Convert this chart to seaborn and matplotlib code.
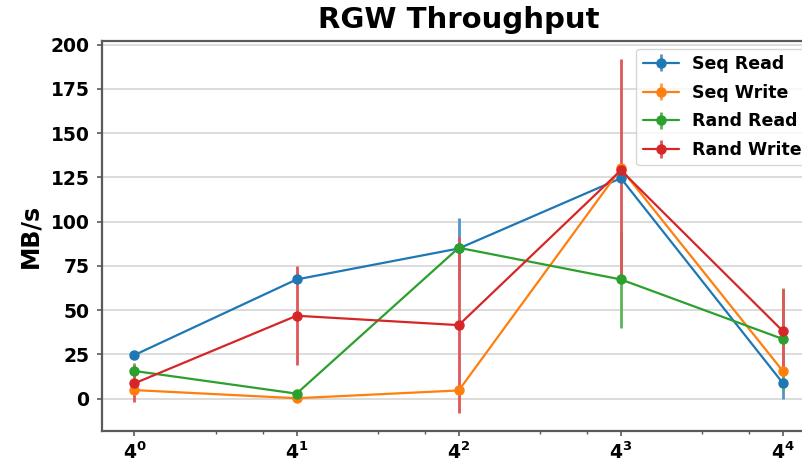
import numpy as np
import pandas as pd
import matplotlib
matplotlib.use("Agg")
import matplotlib.pyplot as plt
import matplotlib.ticker as mticker
import seaborn as sns

block_sizes = [1, 4, 16, 64, 256]
series_names = ["Seq Read", "Seq Write", "Rand Read", "Rand Write"]
seq_read = [24.6, 67.3, 84.8, 124.5, 8.6]
seq_read_err = [0.0, 0.0, 17.5, 0.0, 9.0]
seq_write = [4.8, 0.2, 4.6, 130.0, 15.4]
seq_write_err = [0.0, 0.0, 0.0, 0.0, 0.0]
rand_read = [15.6, 2.8, 85.2, 67.3, 33.6]
rand_read_err = [4.5, 0.0, 0.0, 27.3, 29.0]
rand_write = [8.6, 46.8, 41.5, 129.0, 38.0]
rand_write_err = [10.4, 28.0, 49.8, 63.0, 24.0]
xtick_labels = [r"$\mathbf{4^{0}}$", r"$\mathbf{4^{1}}$", r"$\mathbf{4^{2}}$",
                r"$\mathbf{4^{3}}$", r"$\mathbf{4^{4}}$"]

sns.set_style("whitegrid", {"axes.edgecolor": "#5a5a5a", "grid.color": "#d9d9d9",
                            "xtick.bottom": True, "ytick.left": True,
                            "text.color": "black", "axes.labelcolor": "black",
                            "xtick.color": "#5a5a5a", "ytick.color": "#5a5a5a"})
plt.rcParams["font.family"] = ["DejaVu Sans"]
plt.rcParams["font.weight"] = "bold"
plt.rcParams["mathtext.fontset"] = "dejavusans"

palette = sns.color_palette("tab10", 4)

fig = plt.figure(figsize=(8.02, 4.63), dpi=100)
ax = fig.add_axes([102 / 802, 1 - 431 / 463, (815.5 - 102) / 802, (431 - 41) / 463])

values = [seq_read, seq_write, rand_read, rand_write]
errors = [seq_read_err, seq_write_err, rand_read_err, rand_write_err]
for name, v, e, c in zip(series_names, values, errors, palette):
    light = tuple(0.78 * np.array(c) + 0.22)
    ax.errorbar(block_sizes, v, yerr=e, fmt="-o", color=c, label=name,
                lw=1.6, ms=6.5, elinewidth=2.0, capsize=0, ecolor=light)

ax.set_xscale("log", base=4)
ax.xaxis.set_major_locator(mticker.FixedLocator(block_sizes))
ax.xaxis.set_major_formatter(mticker.FixedFormatter(xtick_labels))
ax.xaxis.set_minor_locator(mticker.LogLocator(base=4, subs=[2, 3]))
ax.xaxis.set_minor_formatter(mticker.NullFormatter())
ax.grid(axis="x", which="both", visible=False)
ax.grid(axis="y", color="#d9d9d9", lw=1.3)
ax.set_yticks([0, 25, 50, 75, 100, 125, 150, 175, 200])
ax.tick_params(axis="both", which="major", labelsize=13.5, length=3.5, width=1.2,
               labelcolor="black")
ax.tick_params(axis="y", which="major", pad=5.5)
ax.tick_params(axis="x", which="major", pad=4)
ax.tick_params(axis="x", which="minor", length=2.2, width=1.0)
for lab in ax.get_yticklabels():
    lab.set_fontweight("bold")
for sp in ax.spines.values():
    sp.set_linewidth(1.6)

ax.set_ylabel("MB/s", fontsize=17, fontweight="bold", labelpad=6)
ax.set_title("RGW Throughput", fontsize=21, fontweight="bold", pad=9.5, color="black")

leg = ax.legend(loc="upper right", fontsize=12.5, frameon=True, borderaxespad=0.45,
                handlelength=2.1, handletextpad=0.75, labelspacing=0.62, borderpad=0.35)
for t in leg.get_texts():
    t.set_fontweight("bold")

fig.savefig("out.png", dpi=100)
